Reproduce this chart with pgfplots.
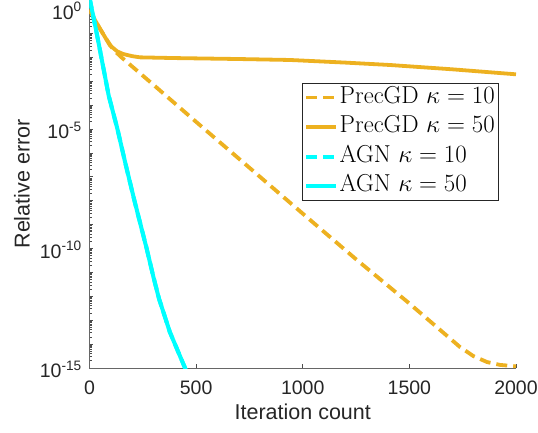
\documentclass[border=0pt]{standalone}
\usepackage{fontspec}
\usepackage{pgfplots}
\pgfplotsset{compat=1.18}
\newfontfamily\arial{Liberation Sans}
\definecolor{morange}{rgb}{0.929,0.694,0.125}
\definecolor{mcyan}{rgb}{0,1,1}
\begin{document}
\begin{tikzpicture}
\begin{axis}[
  name=ax,
  scale only axis,
  width=426.5pt, height=368pt,
  xmin=0, xmax=2000,
  ymode=log, ymin=1e-15, ymax=2.512,
  axis x line*=bottom, axis y line*=left,
  axis line style={black!60, line width=0.9pt},
  tick style={black!70, line width=0.8pt},
  tick align=inside,
  major tick length=4pt,
  xtick={0,500,1000,1500,2000},
  xticklabels={0,500,1000,1500,2000},
  ytick={1e-15,1e-14,1e-13,1e-12,1e-11,1e-10,1e-9,1e-8,1e-7,1e-6,1e-5,1e-4,1e-3,1e-2,1e-1,1},
  yticklabels={10\textsuperscript{-15},,,,,10\textsuperscript{-10},,,,,10\textsuperscript{-5},,,,,10\textsuperscript{0}},
  minor tick num=0,
  xticklabel style={font=\arial\fontsize{19.5}{22}\selectfont, text=black!85, inner sep=0pt, yshift=-13pt},
  yticklabel style={font=\arial\fontsize{19.5}{22}\selectfont, text=black!85, inner sep=0pt, xshift=-7.5pt, yshift=-1.5pt},
  xlabel={Iteration count},
  ylabel={Relative error},
  xlabel style={font=\arial\fontsize{21.5}{24}\selectfont, text=black!85, at={([yshift=-44pt]axis description cs:0.5,0)}, anchor=center, inner sep=0pt},
  ylabel style={font=\arial\fontsize{21.5}{24}\selectfont, text=black!85, at={([xshift=-67.5pt]axis description cs:0,0.5)}, anchor=center, inner sep=0pt},
  legend cell align=left,
  legend image code/.code={\draw[#1] (0pt,0pt) -- (30pt,0pt);},
  legend style={at={(axis description cs:0.498,0.7745)}, anchor=north west,
    draw=black!85, line width=0.7pt, fill=white,
    inner xsep=2pt, inner ysep=2pt, row sep=5pt, column sep=0pt,
    font=\fontsize{24.5}{28}\selectfont,
    nodes={inner sep=1.5pt, text height=16.5pt, text depth=5pt}},
]
% PrecGD kappa=10
\addplot[morange, line width=3.8pt, dash pattern=on 11pt off 6pt] coordinates {
(0,1) (20,0.4467) (49,0.1585) (80,0.05623) (112,0.02089) (150,0.01)
(300,7.079e-4) (500,1.995e-5) (750,2.399e-7) (1017,2.138e-9)
(1250,3.548e-11) (1500,5.012e-13) (1737,7.586e-15) (1800,3.162e-15)
(1864,1.778e-15) (1925,1.349e-15) (2000,1.175e-15)};
\addlegendentry{PrecGD $\kappa=10$}
% PrecGD kappa=50
\addplot[morange, line width=3.8pt] coordinates {
(0,1) (20,0.4467) (49,0.1585) (96,0.03162) (130,0.01778) (158,0.01380)
(200,0.01122) (237,0.01) (400,0.009333) (700,0.008511) (940,0.007762)
(1200,0.006026) (1409,0.004786) (1700,0.003162) (2000,0.001950)};
\addlegendentry{PrecGD $\kappa=50$}
% AGN kappa=10
\addplot[mcyan, line width=4pt, dash pattern=on 11pt off 6pt] coordinates {
(0,3.162) (34,0.1) (90,2.512e-4) (131,1e-5) (170,3.162e-7) (210,1.072e-8)
(268,1e-10) (300,6.310e-12) (326,7.943e-13) (377,3.162e-14) (448,1e-15) (455,6.310e-16)};
\addlegendentry{AGN $\kappa=10$}
% AGN kappa=50
\addplot[mcyan, line width=4pt] coordinates {
(0,3.162) (34,0.1) (90,2.512e-4) (131,1e-5) (170,3.162e-7) (210,1.072e-8)
(268,1e-10) (300,6.310e-12) (326,7.943e-13) (377,3.162e-14) (448,1e-15) (455,6.310e-16)};
\addlegendentry{AGN $\kappa=50$}
\end{axis}
\pgfresetboundingbox
\path ([shift={(-89.5pt,-65pt)}]ax.south west) rectangle ([shift={(22pt,0pt)}]ax.north east);
\end{tikzpicture}
\end{document}
